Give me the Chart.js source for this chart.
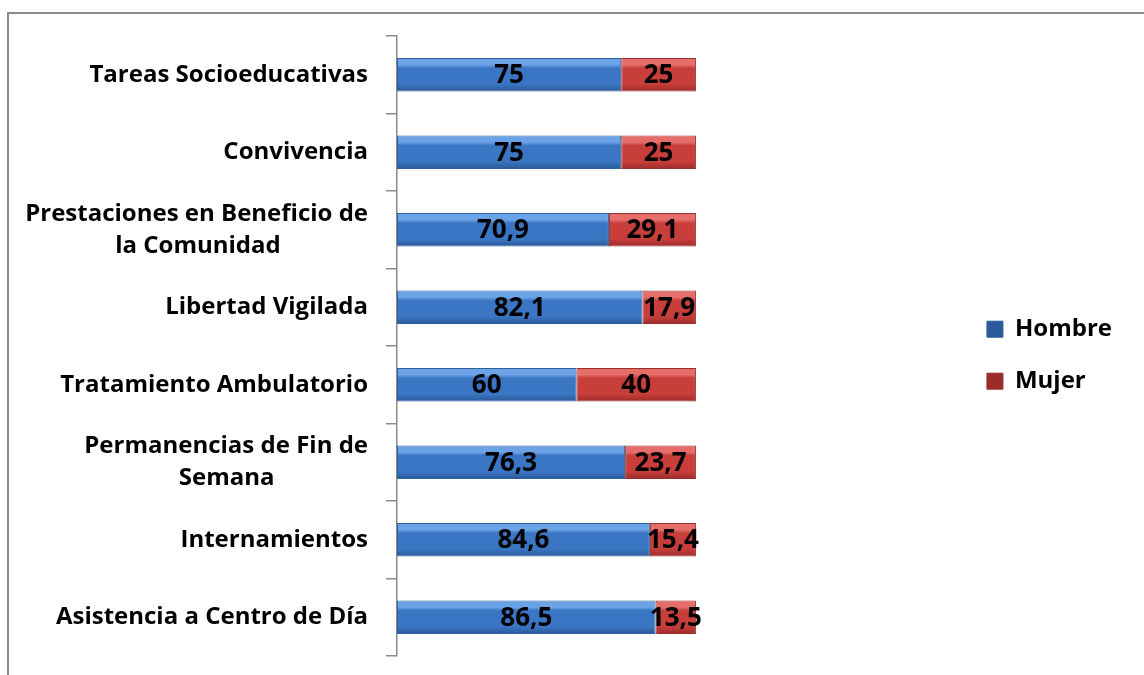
<!DOCTYPE html>
<html>
<head>
<meta charset="utf-8">
<script src="https://cdn.jsdelivr.net/npm/chart.js@4"></script>
<style>
  html, body { margin: 0; padding: 0; background: #fff; }
  #wrap { position: relative; width: 1144px; height: 675px; overflow: hidden; }
  #frame { position: absolute; left: 7px; top: 12px; width: 1200px; height: 700px;
           border-left: 2px solid #8c8c8c; border-top: 2px solid #8c8c8c; }
  #chart { position: absolute; left: 0; top: 0; }
</style>
</head>
<body>
<div id="wrap">
  <div id="frame"></div>
  <canvas id="chart" width="1144" height="675"></canvas>
</div>
<script>
// Categories, top to bottom
const categories = [
    'Tareas Socioeducativas',
    'Convivencia',
    ['Prestaciones en Beneficio de', 'la Comunidad'],
    'Libertad Vigilada',
    'Tratamiento Ambulatorio',
    ['Permanencias de Fin de', 'Semana'],
    'Internamientos',
    'Asistencia a Centro de Día'
];

// Percentages per measure
const hombreValues = [75, 75, 70.9, 82.1, 60, 76.3, 84.6, 86.5];
const mujerValues = [25, 25, 29.1, 17.9, 40, 23.7, 15.4, 13.5];

const barPercent = 0.43;
const labelFont = '"Open Sans", "Noto Sans", sans-serif';
const tickFontSize = 24;

// wrapped labels are centred under the first line in the original,
// so pad the short line with trailing spaces (ticks are right aligned)
function centreWrapped(label) {
    if (!Array.isArray(label)) return label;
    const m = document.createElement('canvas').getContext('2d');
    m.font = 'bold ' + tickFontSize + 'px ' + labelFont;
    const full = m.measureText(label[0]).width;
    let second = label[1];
    while (m.measureText(second + ' ').width - (full + m.measureText(label[1]).width) / 2 <= 0) {
        second += ' ';
    }
    return [label[0], second];
}

// Bevel-ish vertical gradient for each bar
function barFill(light, mid, dark) {
    return (context) => {
        const chart = context.chart;
        if (context.type !== 'data' || !chart.chartArea) return mid;
        const yScale = chart.scales.y;
        const center = yScale.getPixelForValue(context.dataIndex);
        const half = (yScale.height / categories.length) * barPercent / 2;
        const g = chart.ctx.createLinearGradient(0, center - half, 0, center + half);
        g.addColorStop(0, light);
        g.addColorStop(0.2, light);
        g.addColorStop(0.3, mid);
        g.addColorStop(0.78, mid);
        g.addColorStop(1, dark);
        return g;
    };
}

// Value labels in the middle of each segment
const valueLabels = {
    id: 'valueLabels',
    afterDatasetsDraw(chart) {
        const ctx = chart.ctx;
        ctx.save();
        ctx.font = 'bold 26px ' + labelFont;
        ctx.fillStyle = '#000';
        ctx.textAlign = 'center';
        ctx.textBaseline = 'middle';
        chart.data.datasets.forEach((ds, i) => {
            chart.getDatasetMeta(i).data.forEach((bar, j) => {
                const p = bar.getProps(['x', 'y', 'base'], true);
                ctx.fillText(String(ds.data[j]).replace('.', ','), (p.x + p.base) / 2, p.y + 1);
            });
        });
        ctx.restore();
    }
};

new Chart(document.getElementById('chart'), {
    type: 'bar',
    data: {
        labels: categories.map(centreWrapped),
        datasets: [
            {
                label: 'Hombre',
                data: hombreValues,
                backgroundColor: barFill('#6ba3e6', '#3a76c3', '#2a5898'),
                borderColor: '#2f5f9c',
                borderWidth: 1,
                borderSkipped: false
            },
            {
                label: 'Mujer',
                data: mujerValues,
                backgroundColor: barFill('#e56e6b', '#c73e3a', '#9c2c2a'),
                borderColor: '#9a2f2c',
                borderWidth: 1,
                borderSkipped: false
            }
        ]
    },
    options: {
        indexAxis: 'y',
        responsive: false,
        animation: false,
        layout: { autoPadding: false, padding: { top: 36, bottom: 19, left: 0, right: 22 } },
        datasets: {
            bar: { categoryPercentage: 1, barPercentage: barPercent }
        },
        scales: {
            x: {
                stacked: true,
                min: 0,
                max: 100,
                display: false
            },
            y: {
                stacked: true,
                grid: {
                    offset: true,
                    drawOnChartArea: false,
                    drawTicks: true,
                    tickLength: 11,
                    color: '#8c8c8c',
                    lineWidth: 1.5
                },
                border: { color: '#8c8c8c', width: 1.5 },
                ticks: {
                    color: '#000',
                    padding: 18,
                    font: { family: labelFont, size: tickFontSize, weight: 'bold', lineHeight: 1.33 }
                },
                afterFit(scale) {
                    scale.width = 397;
                    scale.paddingTop = 0;
                    scale.paddingBottom = 0;
                }
            },
            spacer: {
                type: 'linear',
                position: 'right',
                display: true,
                grid: { display: false },
                border: { display: false },
                ticks: { display: false },
                afterFit(scale) {
                    scale.width = 263;
                    scale.paddingTop = 0;
                    scale.paddingBottom = 0;
                }
            }
        },
        plugins: {
            legend: {
                position: 'right',
                align: 'center',
                // empty title just nudges the two entries down a little
                title: { display: true, text: ' ', font: { size: 12 }, padding: 2 },
                labels: {
                    color: '#000',
                    boxWidth: 16,
                    boxHeight: 16,
                    padding: 28,
                    font: { family: labelFont, size: 24, weight: 'bold' }
                }
            },
            tooltip: { enabled: false }
        }
    },
    plugins: [valueLabels]
});
</script>
</body>
</html>
